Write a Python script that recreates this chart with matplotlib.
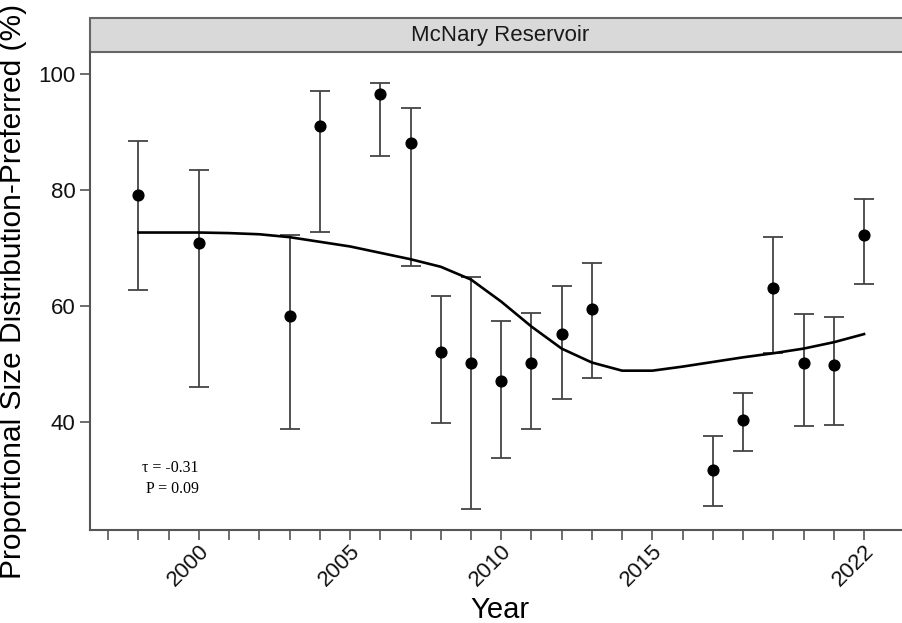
import numpy as np
import matplotlib.pyplot as plt
from matplotlib.patches import Rectangle
from matplotlib import transforms

# data
years = [1998, 2000, 2003, 2004, 2006, 2007, 2008, 2009, 2010, 2011, 2012, 2013,
         2017, 2018, 2019, 2020, 2021, 2022]
psd_p = [79.2, 70.9, 58.3, 91.1, 96.5, 88.1, 52.2, 50.2, 47.2, 50.2, 55.2, 59.5,
         31.8, 40.4, 63.1, 50.2, 49.8, 72.2]
ci_upper = [88.5, 83.4, 72.3, 97.1, 98.4, 94.1, 61.8, 65.0, 57.4, 58.9, 63.5, 67.5,
            37.6, 45.0, 72.0, 58.7, 58.2, 78.4]
ci_lower = [62.8, 46.0, 38.9, 72.8, 85.9, 66.9, 39.8, 25.0, 33.8, 38.9, 44.0, 47.7,
            25.6, 35.1, 52.0, 39.4, 39.6, 63.8]

trend_years = [1998, 1999, 2000, 2001, 2002, 2003, 2004, 2005, 2006, 2007, 2008, 2009,
               2010, 2011, 2012, 2013, 2014, 2015, 2016, 2017, 2018, 2019, 2020, 2021, 2022]
trend_vals = [72.7, 72.7, 72.7, 72.6, 72.4, 71.9, 71.1, 70.3, 69.2, 68.1, 66.8, 64.6,
              60.8, 56.5, 52.7, 50.3, 48.9, 48.9, 49.6, 50.4, 51.2, 51.9, 52.7, 53.8, 55.2]

major_years = [2000, 2005, 2010, 2015, 2022]
stat_text = "\u03c4 = -0.31\n P = 0.09"
panel_title = "McNary Reservoir"

plt.rcParams['font.family'] = ['Liberation Sans', 'DejaVu Sans']

fig = plt.figure(figsize=(9.02, 6.23), dpi=100)
W, H = 902, 623
ax = fig.add_axes([90 / W, 1 - 530 / H, 820 / W, 478 / H])

yr = np.array(years)
val = np.array(psd_p)
err = [val - np.array(ci_lower), np.array(ci_upper) - val]
ax.errorbar(yr, val, yerr=err, fmt='none', ecolor='#444444', elinewidth=1.3,
            capsize=7.5, capthick=1.3, zorder=2)
ax.plot(trend_years, trend_vals, color='black', lw=1.9, zorder=3)
ax.scatter(yr, val, s=60, color='black', zorder=4)

ax.set_xlim(1996.4, 2023.52)
ax.set_ylim(21.45, 103.8)

ax.set_xticks(range(1997, 2023), minor=True)
ax.set_xticks(major_years)
ax.set_yticks([40, 60, 80, 100])
ax.tick_params(axis='both', which='both', direction='out', length=7, width=1.2,
               color='#555555', labelsize=16, labelcolor='#111111')
ax.tick_params(axis='x', pad=6)
# nudge rotated year labels to the right (tick_params would reset this, so do it last)
offset = transforms.ScaledTranslation(7 / 100, 0, fig.dpi_scale_trans)
for lab in ax.get_xticklabels():
    lab.set_rotation(45)
    lab.set_ha('right')
    lab.set_va('center')
    lab.set_rotation_mode('anchor')
    lab.set_transform(lab.get_transform() + offset)

for side in ['top', 'right']:
    ax.spines[side].set_visible(False)
for side in ['left', 'bottom']:
    ax.spines[side].set_color('#555555')
    ax.spines[side].set_linewidth(1.5)

# facet strip
strip_h = 34 / 478
ax.add_patch(Rectangle((0, 1), 1, strip_h, transform=ax.transAxes, facecolor='#d9d9d9',
                       edgecolor='#666666', lw=1.5, clip_on=False))
ax.text(0.5, 1 + strip_h / 2, panel_title, transform=ax.transAxes, ha='center',
        va='center', fontsize=16, color='#1a1a1a')

ax.text(1999.05, 30.3, stat_text, ha='center', va='center', fontsize=11.5,
        family=['Liberation Serif', 'DejaVu Serif'], linespacing=1.4)

ax.set_xlabel('Year', fontsize=21, labelpad=4)
ax.set_ylabel('Proportional Size Distribution-Preferred (%)', fontsize=21.5, labelpad=8)

fig.savefig('out.png', dpi=100)
